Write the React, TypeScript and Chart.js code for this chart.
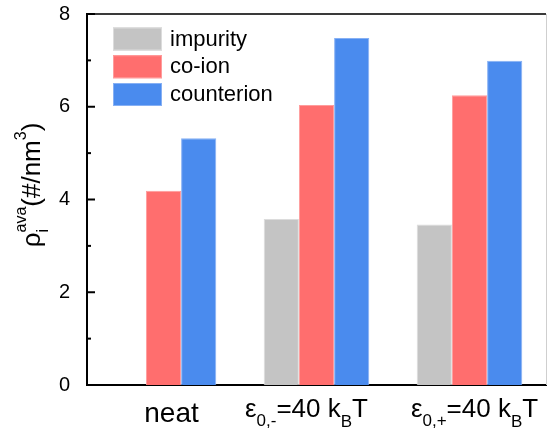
import React, { useEffect, useRef } from "react";
import { Chart, registerables } from "chart.js";

Chart.register(...registerables);

// Average densities (#/nm^3) per system
const categories = ["neat", "eps-", "eps+"];
const impurity = [0, 3.58, 3.46];
const coIon = [4.19, 6.04, 6.25];
const counterion = [5.32, 7.48, 6.99];
const seriesNames = ["impurity", "co-ion", "counterion"];
const yTicks = [0, 2, 4, 6, 8];
const yMinorTicks = [1, 3, 5, 7];

const FONT = '"Liberation Sans", Arial, Helvetica, sans-serif';
const fills = ["#c4c4c4", "#ff6e6e", "#4a8bee"];
const edges = ["#dcdcdc", "#ff9c9c", "#86b0f4"];

type Seg = { text: string; size: number; dy: number } | { sup: string; sub: string; size: number; supDy: number; subDy: number };

// Rich text pieces for the category axis labels
const MAIN = 26;
const SUB = 17;
const xLabelParts: Seg[][] = [
  [{ text: "neat", size: 28, dy: 0 }],
  [
    { text: "ε", size: MAIN, dy: 0 },
    { text: "0,-", size: SUB, dy: 9 },
    { text: "=40 k", size: MAIN, dy: 0 },
    { text: "B", size: SUB, dy: 10 },
    { text: "T", size: MAIN, dy: 0 },
  ],
  [
    { text: "ε", size: MAIN, dy: 0 },
    { text: "0,+", size: SUB, dy: 9 },
    { text: "=40 k", size: MAIN, dy: 0 },
    { text: "B", size: SUB, dy: 10 },
    { text: "T", size: MAIN, dy: 0 },
  ],
];
const xLabelShift = [8, -10, 5];
const xLabelBaseline = [37, 32, 32];

const yTitleParts: Seg[] = [
  { text: "ρ", size: 26, dy: 0 },
  { sup: "ava", sub: "i", size: 16, supDy: -14, subDy: 8 },
  { text: "(#/nm", size: 26, dy: 0 },
  { text: "3", size: 16, dy: -14 } as Seg,
  { text: ")", size: 26, dy: 0 },
];

function segWidth(ctx: CanvasRenderingContext2D, s: Seg): number {
  ctx.font = `${s.size}px ${FONT}`;
  if ("text" in s) return ctx.measureText(s.text).width;
  return Math.max(ctx.measureText(s.sup).width, ctx.measureText(s.sub).width);
}

function drawRich(ctx: CanvasRenderingContext2D, parts: Seg[], cx: number, baseline: number) {
  const total = parts.reduce((a, p) => a + segWidth(ctx, p), 0);
  let x = cx - total / 2;
  ctx.textAlign = "left";
  ctx.textBaseline = "alphabetic";
  ctx.fillStyle = "#000";
  for (const p of parts) {
    const w = segWidth(ctx, p);
    ctx.font = `${p.size}px ${FONT}`;
    if ("text" in p) {
      ctx.fillText(p.text, x, baseline + p.dy);
    } else {
      ctx.fillText(p.sup, x, baseline + p.supDy);
      ctx.fillText(p.sub, x, baseline + p.subDy);
    }
    x += w;
  }
}

const decorations = {
  id: "decorations",
  afterDraw(chart: Chart) {
    const { ctx, chartArea } = chart;
    const y = chart.scales.y;
    const x = chart.scales.x;
    ctx.save();

    // frame: top and right edges
    ctx.strokeStyle = "#3a3a3a";
    ctx.lineWidth = 2;
    ctx.beginPath();
    ctx.moveTo(chartArea.left, chartArea.top);
    ctx.lineTo(chartArea.right, chartArea.top);
    ctx.stroke();
    ctx.strokeStyle = "#cfcfcf";
    ctx.lineWidth = 1;
    ctx.beginPath();
    ctx.moveTo(chartArea.right + 0.5, chartArea.top);
    ctx.lineTo(chartArea.right + 0.5, chartArea.bottom);
    ctx.stroke();

    // inward tick marks on the value axis
    ctx.strokeStyle = "#000";
    ctx.lineWidth = 2;
    for (const v of yTicks) {
      const py = y.getPixelForValue(v);
      ctx.beginPath();
      ctx.moveTo(chartArea.left, py);
      ctx.lineTo(chartArea.left + 8, py);
      ctx.stroke();
    }
    for (const v of yMinorTicks) {
      const py = y.getPixelForValue(v);
      ctx.beginPath();
      ctx.moveTo(chartArea.left, py);
      ctx.lineTo(chartArea.left + 4, py);
      ctx.stroke();
    }

    // legend
    const lx = chartArea.left + 26;
    seriesNames.forEach((name, i) => {
      const top = chartArea.top + 13.5 + i * 27.75;
      ctx.fillStyle = fills[i];
      ctx.fillRect(lx, top, 49, 23);
      ctx.strokeStyle = edges[i];
      ctx.lineWidth = 1;
      ctx.strokeRect(lx + 0.5, top + 0.5, 48, 22);
      ctx.fillStyle = "#000";
      ctx.font = `22px ${FONT}`;
      ctx.textAlign = "left";
      ctx.textBaseline = "middle";
      ctx.fillText(name, lx + 57, top + 12);
    });

    // category labels
    categories.forEach((_, i) => {
      const cx = x.getPixelForValue(i) + xLabelShift[i];
      drawRich(ctx, xLabelParts[i], cx, chartArea.bottom + xLabelBaseline[i]);
    });

    // value axis title, rotated
    ctx.translate(40, chartArea.top + 171);
    ctx.rotate(-Math.PI / 2);
    drawRich(ctx, yTitleParts, 0, 0);

    ctx.restore();
  },
};

export default function App() {
  const ref = useRef<HTMLCanvasElement>(null);

  useEffect(() => {
    if (!ref.current) return;
    const chart = new Chart(ref.current, {
      type: "bar",
      data: {
        labels: categories,
        datasets: [impurity, coIon, counterion].map((data, i) => ({
          label: seriesNames[i],
          data,
          backgroundColor: fills[i],
          borderColor: edges[i],
          borderWidth: 1,
          categoryPercentage: 0.69,
          barPercentage: 1,
        })),
      },
      options: {
        responsive: false,
        animation: false,
        layout: { padding: { top: 14, right: 2, left: 0, bottom: 0 } },
        plugins: { legend: { display: false }, tooltip: { enabled: false }, title: { display: false } },
        scales: {
          x: {
            grid: { display: false },
            ticks: { display: false },
            border: { display: true, color: "#000", width: 2 },
            afterFit: (s: any) => {
              s.height = 50;
              s.paddingLeft = 0;
              s.paddingRight = 0;
            },
          },
          y: {
            min: 0,
            max: 8,
            grid: { display: false },
            border: { display: true, color: "#000", width: 2 },
            ticks: {
              stepSize: 2,
              padding: 9,
              color: "#000",
              font: { family: FONT, size: 20 },
            },
            afterFit: (s: any) => {
              s.width = 87;
              s.paddingTop = 0;
              s.paddingBottom = 0;
            },
          },
        },
      },
      plugins: [decorations],
    });
    return () => chart.destroy();
  }, []);

  return (
    <div style={{ position: "absolute", left: 0, top: 0, width: 548, height: 435, background: "#fff" }}>
      <canvas ref={ref} width={548} height={435} />
    </div>
  );
}
